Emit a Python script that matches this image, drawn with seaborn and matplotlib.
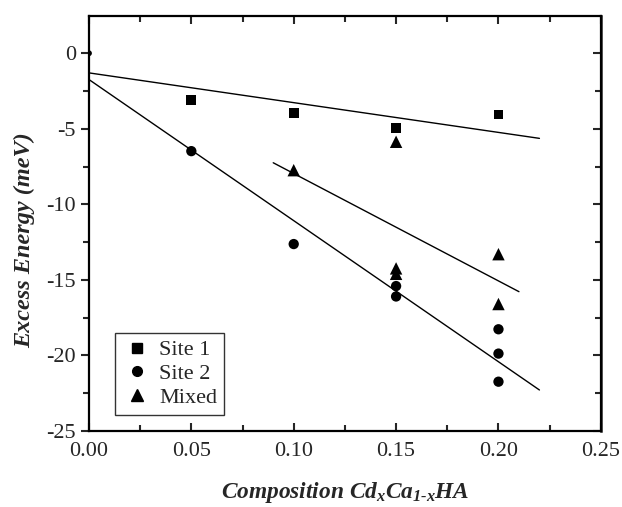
import numpy as np
import pandas as pd
import matplotlib
matplotlib.use("Agg")
import matplotlib.pyplot as plt
import seaborn as sns
from matplotlib.ticker import MultipleLocator, FormatStrFormatter, FuncFormatter
from matplotlib.lines import Line2D

# Excess energy data (meV) vs Cd composition x
site1_x = [0.05, 0.10, 0.15, 0.20]
site1_y = [-3.1, -3.95, -4.94, -4.05]

site2_x = [0.00, 0.05, 0.10, 0.15, 0.15, 0.20, 0.20, 0.20]
site2_y = [0.0, -6.48, -12.63, -15.41, -16.1, -18.27, -19.88, -21.74]

mixed_x = [0.10, 0.15, 0.15, 0.15, 0.20, 0.20]
mixed_y = [-7.74, -5.86, -14.24, -14.6, -13.3, -16.6]

# Linear fits: (x start, x end, intercept, slope)
fit_site1 = (0.0, 0.22, -1.3, -19.7)
fit_site2 = (0.0, 0.22, -1.74, -93.4)
fit_mixed = (0.09, 0.21, -0.85, -71.1)

series_names = ["Site 1", "Site 2", "Mixed"]
marker_map = {"Site 1": "s", "Site 2": "o", "Mixed": "^"}

sns.set_theme(style="ticks")
plt.rcParams["font.family"] = ["Liberation Serif", "DejaVu Serif"]
plt.rcParams["mathtext.fontset"] = "custom"
plt.rcParams["mathtext.it"] = "Liberation Serif:italic:bold"
plt.rcParams["mathtext.rm"] = "Liberation Serif:italic:bold"
plt.rcParams["mathtext.bf"] = "Liberation Serif:italic:bold"

series = ([series_names[0]] * len(site1_x)
          + [series_names[1]] * len(site2_x)
          + [series_names[2]] * len(mixed_x))
df = pd.DataFrame({
    "x": site1_x + site2_x + mixed_x,
    "y": site1_y + site2_y + mixed_y,
    "series": series,
})
# reference point at the origin drawn as a small dot
df["mark"] = df["series"]
df.loc[(df["x"] == 0) & (df["y"] == 0), "mark"] = "origin"
size_map = {"Site 1": 50, "Site 2": 55, "Mixed": 80, "origin": 18}

fig = plt.figure(figsize=(6.22, 5.07), dpi=100)
ax = fig.add_axes([0.143, 0.150, 0.823, 0.818])

for (x0, x1, b, m) in (fit_site1, fit_site2, fit_mixed):
    xs = np.array([x0, x1])
    sns.lineplot(x=xs, y=b + m * xs, ax=ax, color="black", lw=1.0,
                 legend=False)

sns.scatterplot(data=df, x="x", y="y", style="series", size="mark",
                sizes=size_map, markers=marker_map, color="black",
                linewidth=0, ax=ax, zorder=3, legend=False)

ax.set_xlim(0, 0.25)
ax.set_ylim(-25, 2.45)
ax.xaxis.set_major_locator(MultipleLocator(0.05))
ax.xaxis.set_minor_locator(MultipleLocator(0.025))
ax.yaxis.set_major_locator(MultipleLocator(5))
ax.yaxis.set_minor_locator(MultipleLocator(2.5))
ax.xaxis.set_major_formatter(FormatStrFormatter("%.2f"))
ax.yaxis.set_major_formatter(FuncFormatter(lambda v, p: f"{v:.0f}"))

ax.tick_params(axis="x", which="both", direction="in", top=True,
               labelsize=16, pad=8)
ax.tick_params(axis="y", which="both", direction="out", right=False,
               labelsize=16)
ax.tick_params(which="major", length=6, width=1.5)
ax.tick_params(which="minor", length=4, width=1.5)

sec = ax.secondary_yaxis("right")
sec.yaxis.set_major_locator(MultipleLocator(5))
sec.yaxis.set_minor_locator(MultipleLocator(2.5))
sec.tick_params(which="both", direction="in", labelright=False, width=1.5)
sec.tick_params(which="major", length=6)
sec.tick_params(which="minor", length=4)

for sp in ax.spines.values():
    sp.set_linewidth(1.6)
    sp.set_color("black")
    sp.set_visible(True)
sec.spines["right"].set_linewidth(1.8)

ax.set_xlabel(r"$Composition\ Cd_{x}Ca_{1\text{-}x}HA$", fontsize=16.8)
ax.xaxis.set_label_coords(0.5, -0.118)
ax.set_ylabel("Excess Energy (meV)", fontsize=17.5, fontweight="bold",
              fontstyle="italic")
ax.yaxis.set_label_coords(-0.105, 0.46)

handles = [Line2D([], [], ls="none", marker=marker_map[n], color="black",
                  markersize=ms)
           for n, ms in zip(series_names, [6.5, 7, 8])]
leg = ax.legend(handles, series_names, loc="lower left",
                bbox_to_anchor=(0.051, 0.039), borderaxespad=0,
                fontsize=16, frameon=True, fancybox=False, edgecolor="black",
                handletextpad=0.3, borderpad=0.3, labelspacing=0.15,
                handlelength=1.4)
leg.get_frame().set_linewidth(1.0)

fig.savefig("out.png", dpi=100)
